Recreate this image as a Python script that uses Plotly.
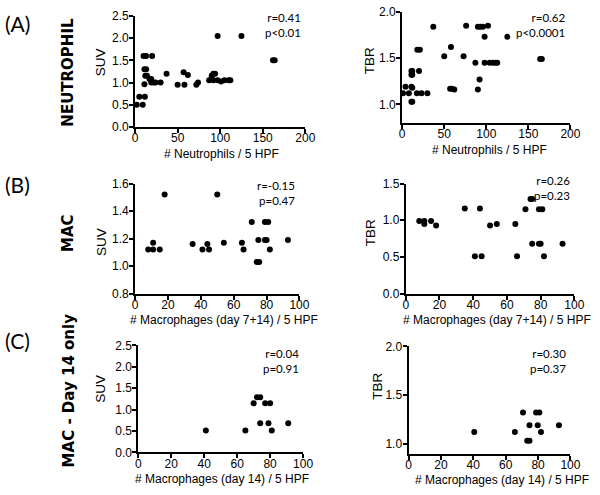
import plotly.graph_objects as go

# ---------------- data ----------------
# (A) Neutrophils
neu_suv_x = [2, 5, 9, 11.5, 10, 13, 20, 11, 13, 12, 14, 11, 17, 19, 19, 22, 24, 30, 37, 50, 57, 58, 62, 72, 74,
             87, 90, 92, 94, 92, 97, 101, 105, 110, 112, 97, 125, 162, 164]
neu_suv_y = [0.50, 0.68, 0.50, 0.68, 1.60, 1.60, 1.60, 1.30, 1.30, 1.15, 1.15, 0.96, 1.08, 1.08, 1.00, 1.00, 1.00,
             1.00, 1.20, 0.95, 1.23, 0.95, 1.17, 0.95, 1.00,
             1.05, 1.15, 1.20, 1.20, 1.05, 1.05, 1.02, 1.05, 1.05, 1.05, 2.05, 2.05, 1.50, 1.50]

neu_tbr_x = [1, 4, 8, 11, 12, 11, 12, 11, 12, 11, 12, 18, 21, 20, 17.5, 23, 30, 37, 50, 58, 57, 59, 62, 73, 76,
             87, 90, 93, 96, 90, 92, 98, 98, 104, 108, 111, 113, 102, 125, 164, 166]
neu_tbr_y = [1.12, 1.19, 1.12, 1.36, 1.36, 1.32, 1.32, 1.19, 1.18, 1.03, 1.03, 1.59, 1.59, 1.36, 1.12, 1.12, 1.12,
             1.84, 1.52, 1.62, 1.17, 1.17, 1.16, 1.52, 1.85,
             1.45, 1.84, 1.84, 1.84, 1.16, 1.27, 1.73, 1.45, 1.45, 1.45, 1.45, 1.45, 1.85, 1.73, 1.49, 1.49]

# (B) Macrophages day 7+14
mac_suv_x = [8, 11, 11, 15, 18, 35, 41, 44, 45, 50, 54, 65, 66, 71, 74, 75.5, 75, 79, 81, 79, 80, 82, 93]
mac_suv_y = [1.12, 1.12, 1.17, 1.12, 1.52, 1.16, 1.12, 1.16, 1.12, 1.52, 1.17, 1.17, 1.12, 1.32, 1.03, 1.03,
             1.19, 1.32, 1.32, 1.19, 1.19, 1.12, 1.19]

mac_tbr_x = [8, 11, 11, 15, 18, 35, 41, 44, 45, 50, 54, 65, 66, 71, 74, 75, 75, 79, 81, 79, 80, 82, 93]
mac_tbr_y = [0.99, 0.99, 0.95, 0.99, 0.93, 1.16, 0.51, 1.16, 0.51, 0.93, 0.95, 0.95, 0.51, 1.15, 1.29, 1.29,
             0.68, 1.15, 1.15, 0.68, 0.68, 0.51, 0.68]

# (C) Macrophages day 14 only
d14_suv_x = [41, 65, 70, 72, 74, 74, 77, 80, 79, 81, 91]
d14_suv_y = [0.51, 0.51, 1.15, 1.29, 1.29, 0.68, 1.15, 1.15, 0.68, 0.51, 0.68]

d14_tbr_x = [40.6, 65.7, 70.7, 73.3, 74.7, 74.7, 78.8, 80.8, 79.8, 81.8, 92.9]
d14_tbr_y = [1.12, 1.12, 1.32, 1.03, 1.03, 1.19, 1.32, 1.32, 1.19, 1.12, 1.19]

stats = [("r=0.41", "p<0.01"), ("r=0.62", "p<0.0001"),
         ("r=-0.15", "p=0.47"), ("r=0.26", "p=0.23"),
         ("r=0.04", "p=0.91"), ("r=0.30", "p=0.37")]
ytitles = ["SUV", "TBR", "SUV", "TBR", "SUV", "TBR"]
xtitles = ["# Neutrophils / 5 HPF", "# Neutrophils / 5 HPF",
           "# Macrophages (day 7+14) / 5 HPF", "# Macrophages (day 7+14) / 5 HPF",
           "# Macrophages (day 14) / 5 HPF", "# Macrophages (day 14) / 5 HPF"]
row_labels = ["NEUTROPHIL", "MAC", "MAC - Day 14 only"]
panel_labels = ["(A)", "(B)", "(C)"]

# ---------------- layout geometry (pixels) ----------------
W, H = 600, 495
# x0, x1, ytop, ybottom
boxes = [
    (135, 309, 9.3, 123.3),
    (408, 580, 5.0, 119.3),
    (135, 303, 181.7, 295.0),
    (411.7, 584, 181.7, 295.0),
    (138.3, 306.7, 348.3, 458.3),
    (414.5, 580, 349.3, 459.5),
]
xtitle_x = [223, 497, 226, 505, 224, 510]
xtitle_y = [151, 147, 322, 322, 486, 487]
ytitle_x = [100, 375, 100, 376, 100, 383]
ytitle_y = [57, 55, 242, 232, 393, 390]
stat_y = [9, 9, 182, 177, 355, 355]
xranges = [(0, 200), (0, 200), (0, 100), (0, 100), (0, 100), (0, 100)]
xdticks = [50, 50, 20, 20, 20, 20]
yranges = [(0, 2.5), (0.8, 2.0), (0.8, 1.6), (0, 1.5), (0, 2.5), (0.9, 2.0)]
ytickvals = [[0, 0.5, 1.0, 1.5, 2.0, 2.5], [1.0, 1.5, 2.0], [0.8, 1.0, 1.2, 1.4, 1.6],
             [0, 0.5, 1.0, 1.5], [0, 0.5, 1.0, 1.5, 2.0, 2.5], [1.0, 1.5, 2.0]]

series = [(neu_suv_x, neu_suv_y), (neu_tbr_x, neu_tbr_y), (mac_suv_x, mac_suv_y),
          (mac_tbr_x, mac_tbr_y), (d14_suv_x, d14_suv_y), (d14_tbr_x, d14_tbr_y)]

fig = go.Figure()
ARIAL = "Liberation Sans, Arial"
tickfont = dict(family=ARIAL, size=12, color="black")
annos = []

for i, ((x0, x1, yt, yb), (xs, ys)) in enumerate(zip(boxes, series)):
    n = "" if i == 0 else str(i + 1)
    fig.add_trace(go.Scatter(x=xs, y=ys, mode="markers", xaxis="x" + n, yaxis="y" + n,
                             marker=dict(color="black", size=6), cliponaxis=False,
                             showlegend=False, hoverinfo="x+y"))
    common = dict(showline=True, linecolor="black", linewidth=2, ticks="outside", ticklen=4,
                  tickwidth=1.5, tickcolor="black", showgrid=False, zeroline=False,
                  tickfont=tickfont, fixedrange=True)
    fig.layout["xaxis" + n] = dict(domain=[x0 / W, x1 / W], range=list(xranges[i]), dtick=xdticks[i],
                                   tick0=0, anchor="y" + n, ticklabelstandoff=-5, **common)
    fig.layout["yaxis" + n] = dict(domain=[1 - yb / H, 1 - yt / H], range=list(yranges[i]),
                                   tickvals=ytickvals[i], tickformat=".1f", anchor="x" + n,
                                   ticklabelstandoff=-2, **common)
    annos.append(dict(x=xtitle_x[i] / W, y=1 - xtitle_y[i] / H, xref="paper", yref="paper", text=xtitles[i],
                      showarrow=False, xanchor="center", yanchor="middle",
                      font=dict(family=ARIAL, size=12, color="black")))
    annos.append(dict(x=ytitle_x[i] / W, y=1 - ytitle_y[i] / H, xref="paper", yref="paper",
                      text=ytitles[i], textangle=-90, showarrow=False, xanchor="center", yanchor="middle",
                      font=dict(family=ARIAL, size=13.5, color="black")))
    r, p = stats[i]
    annos.append(dict(x=(x1 - 2) / W, y=1 - (stat_y[i] - 7) / H, xref="paper", yref="paper",
                      text=r + "<br>" + p, showarrow=False, xanchor="right", yanchor="top", align="right",
                      font=dict(family="Lato", size=11.5, color="black")))

panel_y = [17, 183, 343]
row_y = [67, 233, 395]
for j in range(3):
    annos.append(dict(x=15 / W, y=1 - panel_y[j] / H, xref="paper", yref="paper", text=panel_labels[j],
                      showarrow=False, xanchor="center", yanchor="middle",
                      font=dict(family="Lato", size=21, color="black")))
    annos.append(dict(x=67 / W, y=1 - row_y[j] / H, xref="paper", yref="paper",
                      text="<b>" + row_labels[j] + "</b>",
                      textangle=-90, showarrow=False, xanchor="center", yanchor="middle",
                      font=dict(family="DejaVu Sans", size=15, color="black")))

fig.update_layout(width=W, height=H, margin=dict(l=0, r=0, t=0, b=0), paper_bgcolor="white",
                  plot_bgcolor="white", annotations=annos, showlegend=False)
fig.write_html("out.html", config={"displayModeBar": False},
               post_script="document.body.style.margin='0';document.body.style.overflow='hidden';")
